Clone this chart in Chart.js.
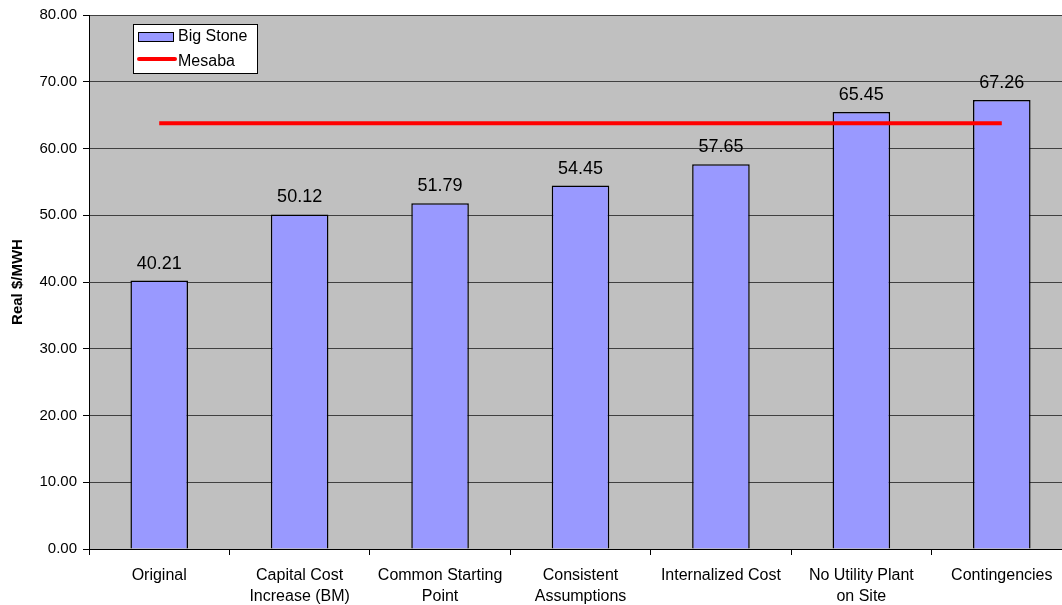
<!DOCTYPE html>
<html>
<head>
<meta charset="utf-8">
<script src="https://cdn.jsdelivr.net/npm/chart.js@4/dist/chart.umd.min.js"></script>
<style>
  body { margin: 0; background: #fff; overflow: hidden; }
  #wrap { width: 1062px; height: 605px; overflow: hidden; }
</style>
</head>
<body>
<div id="wrap"><canvas id="costChart" width="1072" height="605"></canvas></div>
<script>
const categories = [
    'Original',
    ['Capital Cost', 'Increase (BM)'],
    ['Common Starting', 'Point'],
    ['Consistent', 'Assumptions'],
    'Internalized Cost',
    ['No Utility Plant', 'on Site'],
    'Contingencies'
];
const bigStone = [40.21, 50.12, 51.79, 54.45, 57.65, 65.45, 67.26];
const mesaba = [63.8, 63.8, 63.8, 63.8, 63.8, 63.8, 63.8];

const FONT = '"Liberation Sans", Arial, sans-serif';

// gray plot area
const plotBg = {
    id: 'plotBg',
    beforeDraw(chart) {
        const a = chart.chartArea, c = chart.ctx;
        c.save();
        c.fillStyle = '#c0c0c0';
        c.fillRect(a.left, a.top, a.right - a.left, a.bottom - a.top);
        c.restore();
    }
};

// value labels over bars
const valueLabels = {
    id: 'valueLabels',
    afterDatasetsDraw(chart) {
        const c = chart.ctx;
        const meta = chart.getDatasetMeta(0);
        c.save();
        c.font = '18px ' + FONT;
        c.fillStyle = '#000';
        c.textAlign = 'center';
        c.textBaseline = 'bottom';
        meta.data.forEach((bar, i) => {
            c.fillText(bigStone[i].toFixed(2), bar.x, bar.y - 8);
        });
        c.restore();
    }
};

// excel style legend inside the plot
const boxLegend = {
    id: 'boxLegend',
    afterDraw(chart) {
        const c = chart.ctx;
        const x = 133, y = 24, w = 124, h = 49;
        c.save();
        c.fillStyle = '#fff';
        c.fillRect(x, y, w, h);
        c.strokeStyle = '#000';
        c.lineWidth = 1;
        c.strokeRect(x + 0.5, y + 0.5, w, h);
        c.fillStyle = '#9999ff';
        c.fillRect(x + 5, y + 8, 36, 10);
        c.strokeRect(x + 5.5, y + 8.5, 35, 9);
        c.strokeStyle = '#ff0000';
        c.lineWidth = 4;
        c.lineCap = 'round';
        c.beginPath();
        c.moveTo(x + 6, y + 35);
        c.lineTo(x + 42, y + 35);
        c.stroke();
        c.fillStyle = '#000';
        c.font = '16px ' + FONT;
        c.textBaseline = 'middle';
        c.textAlign = 'left';
        c.fillText(chart.data.datasets[0].label, x + 45, y + 13);
        c.fillText(chart.data.datasets[1].label, x + 45, y + 38);
        c.restore();
    }
};

const ctx = document.getElementById('costChart').getContext('2d');
new Chart(ctx, {
    type: 'bar',
    data: {
        labels: categories,
        datasets: [{
            type: 'bar',
            label: 'Big Stone',
            data: bigStone,
            backgroundColor: '#9999ff',
            borderColor: '#000',
            borderWidth: 1.5,
            barPercentage: 0.41,
            categoryPercentage: 1,
            order: 2
        }, {
            type: 'line',
            label: 'Mesaba',
            data: mesaba,
            borderColor: '#ff0000',
            borderWidth: 4,
            pointRadius: 0,
            fill: false,
            order: 1
        }]
    },
    options: {
        responsive: false,
        animation: false,
        layout: { padding: { top: 10, right: 0, left: 0, bottom: 0 } },
        plugins: {
            legend: { display: false },
            tooltip: { enabled: false }
        },
        scales: {
            x: {
                grid: {
                    offset: true,
                    drawOnChartArea: false,
                    color: '#000',
                    tickLength: 6,
                    tickColor: '#000'
                },
                border: { color: '#000', width: 1 },
                ticks: {
                    color: '#000',
                    maxRotation: 0,
                    autoSkip: false,
                    padding: 10,
                    font: { family: FONT, size: 16, lineHeight: 1.3 }
                },
                afterFit(scale) { scale.height = 56; }
            },
            y: {
                min: 0,
                max: 80,
                ticks: {
                    stepSize: 10,
                    color: '#000',
                    padding: 6,
                    font: { family: FONT, size: 15 },
                    callback: v => v.toFixed(2)
                },
                grid: {
                    color: '#404040',
                    tickLength: 6,
                    tickColor: '#000'
                },
                border: { color: '#000', width: 1 },
                title: {
                    display: true,
                    text: 'Real $/MWH',
                    color: '#000',
                    font: { family: FONT, size: 15, weight: 'bold' },
                    padding: { top: 9, bottom: 6 }
                },
                afterFit(scale) { scale.width = 89; }
            }
        }
    },
    plugins: [plotBg, valueLabels, boxLegend]
});
</script>
</body>
</html>
